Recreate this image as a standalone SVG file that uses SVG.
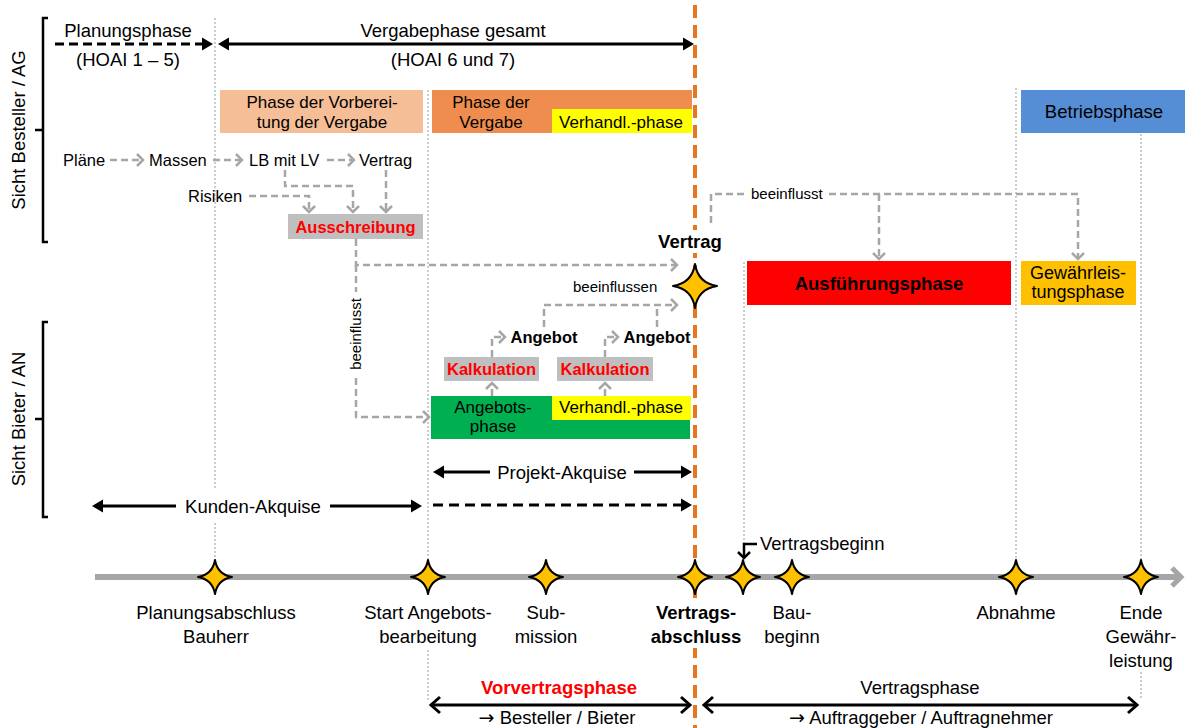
<svg xmlns="http://www.w3.org/2000/svg" width="1185" height="728" viewBox="0 0 1185 728">
<style>
text{font-family:"Liberation Sans",Arial,Helvetica,sans-serif;fill:#000}
.L{font-size:18.5px}
.M{font-size:17px}
.S{font-size:16.5px}
.XS{font-size:15px}
.b{font-weight:bold}
.red{fill:#FF0000}
.c{text-anchor:middle}
.ar{font-family:"Noto Sans","DejaVu Sans",sans-serif;font-size:19px}
.grid{stroke:#9A9A9A;stroke-width:1;stroke-dasharray:2 2;fill:none}
.flow{stroke:#A6A6A6;stroke-width:2.5;stroke-dasharray:7 4;fill:none}
.arr{marker-end:url(#gv)}
.blk{stroke:#000;stroke-width:3;fill:none}
.star{fill:#FFC000;stroke:#000;stroke-width:2;stroke-linejoin:round}
.brk{stroke:#000;stroke-width:2.5;fill:none}
</style>
<defs>
  <marker id="gv" markerUnits="userSpaceOnUse" markerWidth="20" markerHeight="20" viewBox="-10 -10 20 20" refX="0" refY="0" orient="auto" overflow="visible">
    <path d="M-6,-6 L0,0 L-6,6" fill="none" stroke="#A6A6A6" stroke-width="2.5"/>
  </marker>
  <marker id="tri" markerUnits="userSpaceOnUse" markerWidth="20" markerHeight="20" viewBox="-10 -10 20 20" refX="0" refY="0" orient="auto-start-reverse" overflow="visible">
    <path d="M-4,-6.5 L7,0 L-4,6.5 Z" fill="#000"/>
  </marker>
  <marker id="chev" markerUnits="userSpaceOnUse" markerWidth="24" markerHeight="24" viewBox="-12 -12 24 24" refX="0" refY="0" orient="auto-start-reverse" overflow="visible">
    <path d="M-9,-8 L0,0 L-9,8" fill="none" stroke="#000" stroke-width="3"/>
  </marker>
  <marker id="chevS" markerUnits="userSpaceOnUse" markerWidth="20" markerHeight="20" viewBox="-10 -10 20 20" refX="0" refY="0" orient="auto" overflow="visible">
    <path d="M-6,-6 L0,0 L-6,6" fill="none" stroke="#000" stroke-width="2.5"/>
  </marker>
  <path id="starS" class="star" d="M0,-17 Q2.5,-2.5 17,0 Q2.5,2.5 0,17 Q-2.5,2.5 -17,0 Q-2.5,-2.5 0,-17 Z"/>
  <path id="starL" class="star" d="M0,-22 Q3,-3 22,0 Q3,3 0,22 Q-3,3 -22,0 Q-3,-3 0,-22 Z"/>
</defs>

<rect width="1185" height="728" fill="#FFFFFF"/>

<!-- milestone guide lines -->
<g id="guides">
  <path class="grid" d="M215,18 V488 M215,523 V562"/>
  <path class="grid" d="M428,90 V562 M428,650 V700"/>
  <path class="grid" d="M744,262 V543"/>
  <path class="grid" d="M1016,88 V562"/>
  <path class="grid" d="M1141,134 V562 M1141,672 V700"/>
</g>

<!-- contract signing line -->
<g id="vertragslinie">
  <line x1="695" y1="5" x2="695" y2="728" stroke="#E8761E" stroke-width="4" stroke-dasharray="13 7"/>
  <rect x="655" y="230" width="70" height="23" fill="#FFFFFF"/>
  <rect x="654" y="600" width="84" height="48" fill="#FFFFFF"/>
</g>

<!-- perspective brackets -->
<g id="sicht-ag">
  <path class="brk" d="M48,18 H43 V242 H48 M43,130 H35"/>
  <text class="L c" transform="translate(25,130) rotate(-90)">Sicht Besteller / AG</text>
</g>
<g id="sicht-an">
  <path class="brk" d="M48,322 H43 V517 H48 M43,419 H35"/>
  <text class="L c" transform="translate(25,419) rotate(-90)">Sicht Bieter / AN</text>
</g>

<!-- phase spans -->
<g id="planungsphase">
  <text class="L c" x="128" y="37">Planungsphase</text>
  <text class="L c" x="128" y="66">(HOAI 1 – 5)</text>
</g>
<g id="vergabephase-gesamt">
  <text class="L c" x="453" y="37">Vergabephase gesamt</text>
  <text class="L c" x="453" y="66">(HOAI 6 und 7)</text>
</g>

<g id="phase-vorbereitung">
  <rect x="220" y="90" width="203" height="43" fill="#F6BE97"/>
  <text class="M c" x="322" y="108">Phase der Vorberei-</text>
  <text class="M c" x="322" y="128">tung der Vergabe</text>
</g>
<g id="phase-vergabe">
  <rect x="432" y="90" width="260" height="43" fill="#EE8D4D"/>
  <rect x="552" y="109" width="140" height="24" fill="#FFFF00"/>
  <text class="M c" x="491" y="108">Phase der</text>
  <text class="M c" x="491" y="128">Vergabe</text>
  <text class="M c" x="621" y="128">Verhandl.-phase</text>
</g>
<g id="betriebsphase">
  <rect x="1021" y="90" width="164" height="43" fill="#558ED5"/>
  <text class="L c" x="1104" y="118">Betriebsphase</text>
</g>

<!-- tender documents -->
<g id="plaene"><text class="S" x="63" y="166">Pläne</text></g>
<g id="massen"><text class="S" x="149" y="166">Massen</text></g>
<g id="lb-lv"><text class="S" x="249" y="166">LB mit LV</text></g>
<g id="vertrag-doc"><text class="S" x="359" y="166">Vertrag</text></g>
<g id="risiken"><text class="S" x="188" y="202">Risiken</text></g>
<g id="ausschreibung">
  <rect x="288" y="214" width="135" height="25" fill="#BFBFBF"/>
  <text class="S b red c" x="355.5" y="233">Ausschreibung</text>
</g>

<!-- execution phases -->
<g id="ausfuehrungsphase">
  <rect x="747" y="261" width="264" height="44" fill="#FF0000"/>
  <text class="L b c" x="879" y="290">Ausführungsphase</text>
</g>
<g id="gewaehrleistungsphase">
  <rect x="1021" y="261" width="115" height="44" fill="#FFC000"/>
  <text class="L c" x="1078" y="279" style="font-size:18px">Gewährleis-</text>
  <text class="L c" x="1078" y="298" style="font-size:18px">tungsphase</text>
</g>

<!-- bidder side -->
<g id="kalkulation-1">
  <rect x="444" y="357" width="95" height="24" fill="#BFBFBF"/>
  <text class="S b red c" x="491.5" y="375">Kalkulation</text>
</g>
<g id="kalkulation-2">
  <rect x="557" y="357" width="96" height="24" fill="#BFBFBF"/>
  <text class="S b red c" x="605" y="375">Kalkulation</text>
</g>
<g id="angebot-1"><text class="S b c" x="544" y="343">Angebot</text></g>
<g id="angebot-2"><text class="S b c" x="657" y="343">Angebot</text></g>
<g id="angebotsphase">
  <rect x="431" y="396" width="259" height="43" fill="#00B050"/>
  <rect x="552" y="396" width="139" height="24" fill="#FFFF00"/>
  <text class="M c" x="493" y="413">Angebots-</text>
  <text class="M c" x="493" y="432">phase</text>
  <text class="M c" x="621" y="413">Verhandl.-phase</text>
</g>

<!-- connectors -->
<g id="connectors">
  <path class="flow arr" d="M110,160 H143"/>
  <path class="flow arr" d="M213,160 H242"/>
  <path class="flow arr" d="M327,160 H354"/>
  <path class="flow arr" d="M285,170 V186 H353 V212"/>
  <path class="flow arr" d="M386,170 V212"/>
  <path class="flow arr" d="M249,196 H309 V212"/>
  <path class="flow arr" d="M356,239 V265 H677"/>
  <path class="flow" d="M356,265 V292"/>
  <path class="flow arr" d="M356,378 V417 H429"/>
  <path class="flow arr" d="M492,396 V383"/>
  <path class="flow arr" d="M605,396 V383"/>
  <path class="flow arr" d="M492,357 V337 H505"/>
  <path class="flow arr" d="M605,357 V337 H618"/>
  <path class="flow arr" d="M544,327 V305 H677"/>
  <path class="flow" d="M657,327 V305"/>
  <path class="flow" d="M711,223 V194 H747"/>
  <path class="flow arr" d="M829,194 H1078 V259"/>
  <path class="flow arr" d="M879,194 V259"/>

  <path class="blk" stroke-dasharray="9 5" marker-end="url(#tri)" d="M55,44 H206"/>
  <path class="blk" marker-start="url(#tri)" marker-end="url(#tri)" d="M225,44 H687"/>
  <path class="blk" marker-start="url(#tri)" d="M99,506 H176"/>
  <path class="blk" marker-end="url(#tri)" d="M330,506 H415"/>
  <path class="blk" marker-start="url(#tri)" d="M440,472 H490"/>
  <path class="blk" marker-end="url(#tri)" d="M634,472 H685"/>
  <path class="blk" stroke-dasharray="10 6" marker-end="url(#tri)" d="M433,505 H685"/>
  <path class="blk" marker-start="url(#chev)" marker-end="url(#chev)" d="M431,705 H690"/>
  <path class="blk" marker-start="url(#chev)" marker-end="url(#chev)" d="M704,705 H1137"/>
  <path stroke="#000" stroke-width="2.5" fill="none" marker-end="url(#chevS)" d="M757,544 H744 V558"/>

  <text class="XS" x="751" y="199">beeinflusst</text>
  <text class="XS" x="573" y="292">beeinflussen</text>
  <text class="XS c" transform="translate(361,334) rotate(-90)">beeinflusst</text>
  <text class="L c" x="562" y="479">Projekt-Akquise</text>
  <text class="L c" x="253" y="513">Kunden-Akquise</text>
</g>

<!-- contract -->
<g id="vertrag">
  <text class="L b c" x="690" y="248">Vertrag</text>
  <use href="#starL" x="695" y="286"/>
</g>

<!-- time axis -->
<g id="zeitachse">
  <line x1="95" y1="577" x2="1178" y2="577" stroke="#A6A6A6" stroke-width="6"/>
  <path d="M1172,568 L1181,577 L1172,586" fill="none" stroke="#A6A6A6" stroke-width="5"/>
</g>

<g id="ms-planungsabschluss">
  <use href="#starS" x="215" y="577"/>
  <text class="L c" x="216" y="619">Planungsabschluss</text>
  <text class="L c" x="216" y="643">Bauherr</text>
</g>
<g id="ms-start-angebot">
  <use href="#starS" x="428" y="577"/>
  <text class="L c" x="428" y="619">Start Angebots-</text>
  <text class="L c" x="428" y="643">bearbeitung</text>
</g>
<g id="ms-submission">
  <use href="#starS" x="546" y="577"/>
  <text class="L c" x="546" y="619">Sub-</text>
  <text class="L c" x="546" y="643">mission</text>
</g>
<g id="ms-vertragsabschluss">
  <use href="#starS" x="695" y="577"/>
  <text class="L b c" x="696" y="619">Vertrags-</text>
  <text class="L b c" x="696" y="643">abschluss</text>
</g>
<g id="ms-vertragsbeginn">
  <use href="#starS" x="743" y="577"/>
  <text class="L" x="760" y="550">Vertragsbeginn</text>
</g>
<g id="ms-baubeginn">
  <use href="#starS" x="792" y="577"/>
  <text class="L c" x="792" y="619">Bau-</text>
  <text class="L c" x="792" y="643">beginn</text>
</g>
<g id="ms-abnahme">
  <use href="#starS" x="1016" y="577"/>
  <text class="L c" x="1016" y="619">Abnahme</text>
</g>
<g id="ms-ende-gewaehrleistung">
  <use href="#starS" x="1141" y="577"/>
  <text class="L c" x="1141" y="619">Ende</text>
  <text class="L c" x="1141" y="643">Gewähr-</text>
  <text class="L c" x="1141" y="667">leistung</text>
</g>

<!-- contract relationship phases -->
<g id="vorvertragsphase">
  <text class="L b red c" x="559" y="694">Vorvertragsphase</text>
  <text class="L c" x="557" y="724"><tspan class="ar">→</tspan> Besteller / Bieter</text>
</g>
<g id="vertragsphase">
  <text class="L c" x="920" y="694">Vertragsphase</text>
  <text class="L c" x="921" y="724"><tspan class="ar">→</tspan> Auftraggeber / Auftragnehmer</text>
</g>
</svg>
